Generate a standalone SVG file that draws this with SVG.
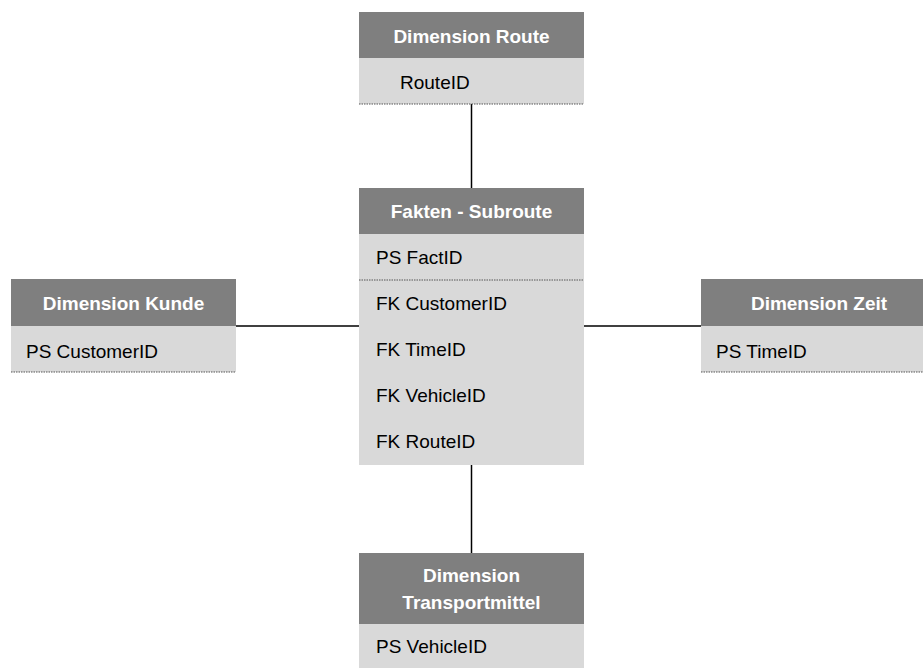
<svg xmlns="http://www.w3.org/2000/svg" width="923" height="668" viewBox="0 0 923 668">
<style>
.hd{fill:#7f7f7f}
.bd{fill:#d9d9d9}
.ht{font-family:"Liberation Sans",Arial,sans-serif;font-size:19px;font-weight:bold;fill:#ffffff;text-anchor:middle}
.bt{font-family:"Liberation Sans",Arial,sans-serif;font-size:19px;fill:#000000}
.dot{stroke:#555555;stroke-width:1;stroke-dasharray:1.5 1}
.con{stroke:#000000;stroke-width:1.5;fill:none}
</style>
<rect width="923" height="668" fill="#ffffff"/>
<g id="connectors">
<line class="con" x1="471.5" y1="104" x2="471.5" y2="188"/>
<line class="con" x1="471.5" y1="465" x2="471.5" y2="553"/>
<line class="con" x1="236" y1="326" x2="359" y2="326"/>
<line class="con" x1="584" y1="326" x2="701" y2="326"/>
</g>
<g id="dim-route">
<rect class="hd" x="359" y="12" width="225" height="46"/>
<rect class="bd" x="359" y="58" width="225" height="46"/>
<line class="dot" x1="359" y1="104" x2="584" y2="104"/>
<text class="ht" x="471.5" y="43">Dimension Route</text>
<text class="bt" x="400" y="89">RouteID</text>
</g>
<g id="fakten">
<rect class="hd" x="359" y="188" width="225" height="46"/>
<rect class="bd" x="359" y="234" width="225" height="231"/>
<line class="dot" x1="359" y1="280" x2="584" y2="280"/>
<text class="ht" x="471.5" y="218">Fakten - Subroute</text>
<text class="bt" x="376" y="264">PS FactID</text>
<text class="bt" x="376" y="310">FK CustomerID</text>
<text class="bt" x="376" y="356">FK TimeID</text>
<text class="bt" x="376" y="402">FK VehicleID</text>
<text class="bt" x="376" y="448">FK RouteID</text>
</g>
<g id="dim-kunde">
<rect class="hd" x="11" y="279" width="225" height="47"/>
<rect class="bd" x="11" y="326" width="225" height="46"/>
<line class="dot" x1="11" y1="372" x2="236" y2="372"/>
<text class="ht" x="123.5" y="310">Dimension Kunde</text>
<text class="bt" x="26" y="358">PS CustomerID</text>
</g>
<g id="dim-zeit">
<rect class="hd" x="701" y="279" width="236" height="47"/>
<rect class="bd" x="701" y="326" width="236" height="46"/>
<line class="dot" x1="701" y1="372" x2="937" y2="372"/>
<text class="ht" x="819" y="310">Dimension Zeit</text>
<text class="bt" x="716" y="358">PS TimeID</text>
</g>
<g id="dim-transport">
<rect class="hd" x="359" y="553" width="225" height="71"/>
<rect class="bd" x="359" y="624" width="225" height="50"/>
<text class="ht" x="471.5" y="582">Dimension</text>
<text class="ht" x="471.5" y="609">Transportmittel</text>
<text class="bt" x="376" y="653">PS VehicleID</text>
</g>
</svg>
